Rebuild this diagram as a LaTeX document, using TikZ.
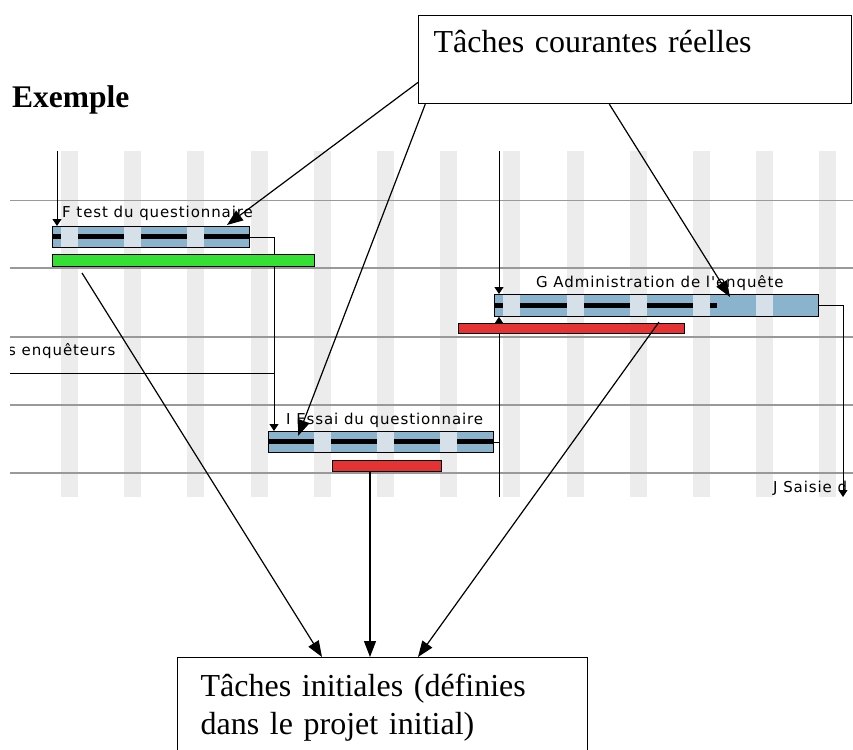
\documentclass[tikz,border=0pt]{standalone}
\usepackage{fontspec}
\setmainfont{Liberation Serif}
\newfontfamily\ganttfont[LetterSpace=6]{DejaVu Sans}
\usetikzlibrary{arrows.meta}

\definecolor{barblue}{HTML}{8AB4CE}
\definecolor{barlight}{HTML}{D5E0E8}
\definecolor{stripe}{HTML}{ECECEC}
\definecolor{gridgray}{HTML}{999999}
\definecolor{donegreen}{HTML}{33E033}
\definecolor{planred}{HTML}{E53232}

\tikzset{
  tache/.style={draw=black,fill=barblue,line width=0.8pt,inner sep=0pt,anchor=north west},
  realise/.style={draw=black,fill=donegreen,line width=0.8pt,inner sep=0pt,anchor=north west},
  prevu/.style={draw=black,fill=planred,line width=0.8pt,inner sep=0pt,anchor=north west},
  etiquette/.style={font=\ganttfont\fontsize{15}{15}\selectfont,inner sep=0pt,anchor=west},
  lien/.style={black,line width=0.8pt,-{Triangle[length=7pt,width=9pt]}},
  fleche/.style={black,line width=1.2pt,-{Triangle[length=16pt,width=12pt]}},
  boite/.style={draw=black,line width=1.2pt,align=left,font=\fontsize{32}{38}\selectfont}
}

\begin{document}
\begin{tikzpicture}[x=1pt,y=-1pt]
\useasboundingbox (0,0) rectangle (853,749);

\node[font=\bfseries\fontsize{31.5}{38}\selectfont,anchor=west,inner sep=0pt] (exemple) at (12,100) {Exemple};

%---------------------------------------------------
% fond du diagramme de Gantt
\begin{scope}
\clip (10,151) rectangle (853,497);
\foreach \x in {61,124.2,...,830} \fill[stripe] (\x,151) rectangle ++(17,346);
\foreach \y in {200.5,268,337,405,473} \draw[gridgray,line width=1.5pt] (10,\y) -- (853,\y);

%---------------------------------------------------
% liens entre taches
\coordinate (depF) at (57,151);
\coordinate (xFI) at (274,0);
\coordinate (prevE) at (10,373);
\coordinate (depG) at (499,151);
\coordinate (depGb) at (499,497);
\coordinate (depJ) at (843,497);
\coordinate (finG) at (717,0);

\node[tache,minimum width=197pt,minimum height=21pt] (barF) at (52,226) {};
\node[tache,minimum width=324pt,minimum height=22pt] (barG) at (494,294) {};
\node[tache,minimum width=225pt,minimum height=21pt] (barI) at (268,431) {};

\draw[lien] (depF) -- (depF |- barF.north);
\draw[black,line width=0.8pt] (prevE) -- (xFI |- prevE);
\draw[lien] (barF.east) -| (xFI |- barI.north);
\draw[lien] (depG) -- (depG |- barG.north);
\draw[lien] (depGb) -- (depGb |- barG.south);
\draw[black,line width=0.8pt] (barI.east) -- (depGb |- barI.east);
\draw[lien] (barG.east) -| (depJ);

%---------------------------------------------------
% avancement et rayures sur les barres
\draw[line width=5pt] (barF.west) -- (barF.east);
\draw[line width=5pt] (barG.west) -- (finG |- barG.west);
\draw[line width=5pt] (barI.west) -- (barI.east);
\begin{scope}
\clip (barF.north west) rectangle (barF.south east)
      (barG.north west) rectangle (barG.south east)
      (barI.north west) rectangle (barI.south east);
\foreach \x in {61,124.2,...,830} \fill[barlight] (\x,151) rectangle ++(17,346);
\end{scope}
\draw[line width=0.8pt] (barF.north west) rectangle (barF.south east);
\draw[line width=0.8pt] (barG.north west) rectangle (barG.south east);
\draw[line width=0.8pt] (barI.north west) rectangle (barI.south east);

\node[realise,minimum width=262pt,minimum height=12pt] (vertF) at (52,254) {};
\node[prevu,minimum width=226pt,minimum height=10pt] (rougeG) at (458,323) {};
\node[prevu,minimum width=109pt,minimum height=11pt] (rougeI) at (332,460) {};

%---------------------------------------------------
\node[etiquette] (lblF) at (62,213) {F test du questionnaire};
\node[etiquette] (lblG) at (536,283) {G Administration de l'enquête};
\node[etiquette] (lblI) at (286,420) {I Essai du questionnaire};
\node[etiquette] (lblE) at (8,351) {s enquêteurs};
\node[etiquette] (lblJ) at (773,488) {J Saisie d};
\end{scope}

%---------------------------------------------------
% cadres de commentaire
\node[boite,anchor=north west,text width=403pt,inner xsep=15pt,inner ysep=7pt,
      text height=30pt,text depth=44pt] (courantes) at (418,15) {Tâches courantes réelles};
\node[boite,anchor=north west,text width=364pt,inner xsep=23pt,minimum height=100pt]
      (initiales) at (177,657) {Tâches initiales (définies\\dans le projet initial)};

\coordinate (pF) at (227,225);
\coordinate (pI) at (298,436);
\coordinate (pG) at (730,297);
\draw[fleche] (courantes.186.3) -- (pF);
\draw[fleche] (courantes.192.8) -- (pI);
\draw[fleche] (courantes.240.9) -- (pG);

\coordinate (sF) at (82,273);
\coordinate (sI) at (370,471);
\coordinate (sG) at (659,322);
\draw[fleche] (sF) -- (initiales.north west -| 322,0);
\draw[fleche] (sI) -- (initiales.north west -| sI);
\draw[fleche] (sG) -- (initiales.north west -| 418,0);
\end{tikzpicture}
\end{document}
